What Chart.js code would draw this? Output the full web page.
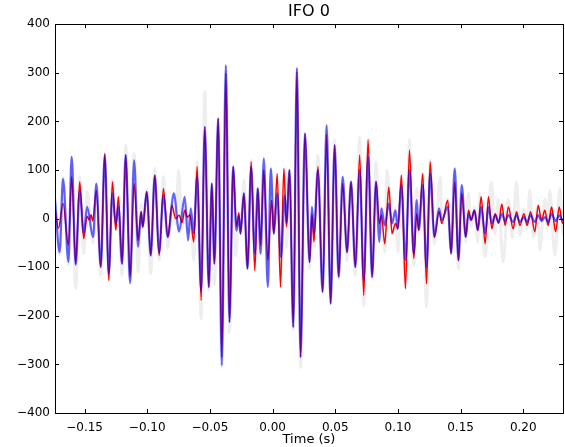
<!DOCTYPE html>
<html>
<head>
<meta charset="utf-8">
<script src="https://cdn.jsdelivr.net/npm/chart.js"></script>
<style>
  html, body { margin: 0; padding: 0; background: #fff; }
  #wrap { width: 565px; height: 447px; }
</style>
</head>
<body>
<div id="wrap"><canvas id="chartIfo"></canvas></div>
<script>
// values: extrema of each trace (time in s, strain units)
const redT = [-0.1736,-0.1709,-0.1672,-0.1629,-0.1603,-0.1571,-0.1539,-0.1507,-0.1480,-0.1464,-0.1448,-0.1436,-0.1406,-0.1371,-0.1339,-0.1307,-0.1278,-0.1251,-0.1230,-0.1201,-0.1172,-0.1137,-0.1105,-0.1073,-0.1049,-0.1036,-0.1004,-0.0972,-0.0940,-0.0905,-0.0871,-0.0836,-0.0804,-0.0772,-0.0746,-0.0722,-0.0701,-0.0680,-0.0660,-0.0629,-0.0602,-0.0570,-0.0541,-0.0509,-0.0485,-0.0464,-0.0434,-0.0405,-0.0373,-0.0344,-0.0315,-0.0288,-0.0269,-0.0256,-0.0229,-0.0200,-0.0171,-0.0142,-0.0118,-0.0096,-0.0070,-0.0038,-0.0008,0.0010,0.0037,0.0063,0.0090,0.0111,0.0135,0.0165,0.0194,0.0223,0.0258,0.0295,0.0314,0.0330,0.0362,0.0399,0.0431,0.0463,0.0495,0.0527,0.0559,0.0594,0.0626,0.0660,0.0695,0.0727,0.0762,0.0794,0.0825,0.0852,0.0868,0.0895,0.0927,0.0953,0.0980,0.0999,0.1028,0.1060,0.1092,0.1126,0.1150,0.1166,0.1198,0.1228,0.1257,0.1291,0.1328,0.1350,0.1398,0.1424,0.1453,0.1483,0.1509,0.1541,0.1563,0.1584,0.1611,0.1637,0.1664,0.1696,0.1722,0.1749,0.1776,0.1803,0.1829,0.1855,0.1882,0.1919,0.1946,0.1973,0.2005,0.2031,0.2058,0.2092,0.2119,0.2146,0.2172,0.2199,0.2226,0.2258,0.2287,0.2313,0.2329];
const redV = [20,-20,31,-55,86,-93,76,-41,5,-3,8,-5,58,-100,134,-127,76,-24,45,-93,131,-120,72,-45,14,-17,55,-76,89,-76,62,-38,27,0,7,-8,17,3,8,-48,107,-168,189,-141,72,-93,206,-285,299,-213,107,-17,12,-31,52,-103,117,-107,62,-55,100,-86,38,-31,93,-141,103,-17,100,-223,302,-285,175,-90,10,-48,107,-151,172,-175,151,-120,72,-69,76,-100,131,-158,162,-120,76,-10,7,-52,65,-31,-10,-21,89,-144,141,-82,10,-24,93,-134,117,-38,14,-10,38,-72,76,-86,52,-38,17,-3,17,-24,45,-52,45,-21,10,-10,30,-14,24,-21,14,-14,10,-14,14,-27,27,-3,17,-14,24,-27,24,-10,0];

const blueT = [-0.1736,-0.1699,-0.1672,-0.1629,-0.1603,-0.1571,-0.1539,-0.1507,-0.1480,-0.1432,-0.1406,-0.1371,-0.1339,-0.1307,-0.1278,-0.1251,-0.1230,-0.1201,-0.1172,-0.1137,-0.1105,-0.1073,-0.1049,-0.1036,-0.1004,-0.0972,-0.0940,-0.0905,-0.0871,-0.0836,-0.0788,-0.0746,-0.0701,-0.0674,-0.0653,-0.0629,-0.0602,-0.0570,-0.0541,-0.0509,-0.0485,-0.0464,-0.0434,-0.0405,-0.0373,-0.0344,-0.0315,-0.0288,-0.0269,-0.0256,-0.0229,-0.0200,-0.0171,-0.0142,-0.0118,-0.0096,-0.0070,-0.0038,-0.0014,0.0010,0.0037,0.0066,0.0098,0.0111,0.0135,0.0165,0.0194,0.0223,0.0258,0.0295,0.0314,0.0330,0.0362,0.0399,0.0431,0.0463,0.0495,0.0527,0.0559,0.0594,0.0626,0.0660,0.0695,0.0727,0.0762,0.0794,0.0825,0.0852,0.0868,0.0895,0.0927,0.0953,0.0980,0.0999,0.1028,0.1060,0.1092,0.1126,0.1150,0.1166,0.1198,0.1228,0.1257,0.1291,0.1328,0.1350,0.1398,0.1424,0.1453,0.1483,0.1509,0.1541,0.1563,0.1584,0.1611,0.1637,0.1664,0.1696,0.1722,0.1749,0.1776,0.1803,0.1829,0.1855,0.1882,0.1919,0.1946,0.1973,0.2005,0.2031,0.2058,0.2092,0.2119,0.2146,0.2172,0.2199,0.2226,0.2258,0.2287,0.2313,0.2329];
const blueV = [40,-69,82,-89,127,-95,58,-30,24,-38,72,-100,130,-113,52,-10,25,-93,131,-133,120,-58,14,-17,55,-76,89,-70,48,-38,52,-27,45,-45,21,-30,86,-148,189,-141,72,-93,206,-302,316,-213,107,-25,5,-31,52,-103,107,-72,62,-72,124,-141,103,-31,52,-79,48,-10,100,-223,310,-285,175,-90,24,-30,100,-151,192,-175,151,-120,86,-69,76,-100,100,-127,127,-120,76,-48,21,-14,31,-10,17,-21,69,-86,100,-72,38,-24,69,-100,93,-38,21,-3,24,-72,103,-86,69,-38,10,-3,17,-24,24,-31,24,-10,7,-7,10,-5,7,-7,7,-7,3,-7,7,-7,7,-5,3,-7,10,-5,7,-3,0];

const grayT = [-0.1736,-0.1699,-0.1672,-0.1629,-0.1603,-0.1571,-0.1539,-0.1507,-0.1480,-0.1432,-0.1406,-0.1371,-0.1339,-0.1307,-0.1278,-0.1251,-0.1230,-0.1201,-0.1172,-0.1137,-0.1105,-0.1073,-0.1049,-0.1036,-0.1004,-0.0972,-0.0940,-0.0905,-0.0871,-0.0836,-0.0804,-0.0772,-0.0750,-0.0722,-0.0701,-0.0674,-0.0653,-0.0629,-0.0602,-0.0570,-0.0541,-0.0509,-0.0485,-0.0464,-0.0434,-0.0405,-0.0373,-0.0344,-0.0315,-0.0293,-0.0269,-0.0256,-0.0229,-0.0200,-0.0171,-0.0142,-0.0118,-0.0096,-0.0070,-0.0038,-0.0014,0.0010,0.0037,0.0066,0.0098,0.0111,0.0135,0.0165,0.0194,0.0223,0.0258,0.0295,0.0314,0.0330,0.0362,0.0399,0.0431,0.0463,0.0495,0.0527,0.0559,0.0594,0.0626,0.0660,0.0695,0.0727,0.0762,0.0794,0.0825,0.0852,0.0868,0.0895,0.0913,0.0953,0.0980,0.0999,0.1028,0.1060,0.1092,0.1126,0.1150,0.1166,0.1198,0.1228,0.1257,0.1291,0.1339,0.1350,0.1398,0.1424,0.1453,0.1483,0.1509,0.1541,0.1563,0.1584,0.1611,0.1637,0.1653,0.1696,0.1746,0.1773,0.1800,0.1840,0.1880,0.1913,0.1946,0.1973,0.2005,0.2030,0.2052,0.2079,0.2119,0.2132,0.2172,0.2192,0.2212,0.2252,0.2292,0.2319,0.2329];
const grayV = [30,-75,85,-95,125,-144,86,-72,55,-50,70,-117,134,-127,80,-20,45,-117,151,-127,134,-110,30,-20,60,-113,103,-85,86,-60,30,-10,100,-20,30,-30,10,-86,117,-206,261,-148,72,-137,206,-306,312,-234,107,-76,10,-30,79,-103,120,-90,65,-70,100,-130,103,-30,60,-115,100,-60,100,-230,305,-306,175,-103,24,-60,131,-151,192,-175,162,-123,86,-86,76,-117,168,-179,162,-123,117,-30,21,-69,100,-30,21,-69,89,-144,162,-96,62,-30,93,-182,120,-52,86,0,40,-72,103,-103,69,-48,52,-17,24,-48,52,-79,76,-31,40,-89,40,-40,76,-35,20,-20,58,-38,28,-65,40,-20,58,-76,62,-35,0];

const xTicks = [-0.15, -0.10, -0.05, 0.00, 0.05, 0.10, 0.15, 0.20];
const yTicks = [-400, -300, -200, -100, 0, 100, 200, 300, 400];

function toPoints(ts, vs) {
  return ts.map((t, i) => ({ x: t, y: vs[i] }));
}

function minusLabel(v, digits) {
  const s = Math.abs(v).toFixed(digits);
  return v < 0 ? '\u2212' + s : s;
}

// matplotlib style frame with inward ticks on all four sides
const frameTicks = {
  id: 'frameTicks',
  afterDatasetsDraw(chart) {
    const { ctx, chartArea: a, scales } = chart;
    ctx.save();
    ctx.strokeStyle = '#000';
    ctx.lineWidth = 1;
    ctx.beginPath();
    xTicks.forEach(v => {
      const px = Math.round(scales.x.getPixelForValue(v)) + 0.5;
      ctx.moveTo(px, a.bottom); ctx.lineTo(px, a.bottom - 4);
      ctx.moveTo(px, a.top); ctx.lineTo(px, a.top + 4);
    });
    yTicks.forEach(v => {
      const py = Math.round(scales.y.getPixelForValue(v)) + 0.5;
      ctx.moveTo(a.left, py); ctx.lineTo(a.left + 4, py);
      ctx.moveTo(a.right, py); ctx.lineTo(a.right - 4, py);
    });
    ctx.stroke();
    ctx.strokeRect(Math.round(a.left) + 0.5, Math.round(a.top) + 0.5,
      Math.round(a.right - a.left), Math.round(a.bottom - a.top));
    ctx.restore();
  }
};

Chart.defaults.font.family = "'DejaVu Sans', sans-serif";
Chart.defaults.font.size = 12;
Chart.defaults.color = '#000';

new Chart(document.getElementById('chartIfo'), {
  type: 'line',
  data: {
    datasets: [
      {
        label: 'blue',
        data: toPoints(blueT, blueV),
        borderColor: 'rgba(0,0,255,0.6)',
        borderWidth: 2.2,
        order: 0
      },
      {
        label: 'red',
        data: toPoints(redT, redV),
        borderColor: '#ff0000',
        borderWidth: 1.5,
        order: 1
      },
      {
        label: 'gray',
        data: toPoints(grayT, grayV),
        borderColor: '#eeeeee',
        borderWidth: 3,
        order: 2
      }
    ]
  },
  options: {
    responsive: true,
    maintainAspectRatio: false,
    animation: false,
    layout: { padding: { left: 0, right: 2, top: 0, bottom: 0 } },
    elements: {
      point: { radius: 0 },
      line: { cubicInterpolationMode: 'monotone', fill: false }
    },
    plugins: {
      legend: { display: false },
      tooltip: { enabled: false },
      title: {
        display: true,
        text: 'IFO 0',
        fullSize: false,
        font: { size: 16, weight: 'normal' },
        padding: { top: 2, bottom: 3 }
      }
    },
    scales: {
      x: {
        type: 'linear',
        min: -0.1736,
        max: 0.2317,
        grid: { display: false, drawTicks: false },
        border: { display: false },
        afterBuildTicks: s => { s.ticks = xTicks.map(v => ({ value: v })); },
        afterFit: s => { s.height = 34; },
        ticks: {
          padding: 8,
          maxRotation: 0,
          autoSkip: false,
          callback: v => minusLabel(v, 2)
        },
        title: { display: true, text: 'Time (s)', font: { size: 13 }, padding: { top: 0, bottom: 0 } }
      },
      y: {
        min: -400,
        max: 400,
        grid: { display: false, drawTicks: false },
        border: { display: false },
        afterBuildTicks: s => { s.ticks = yTicks.map(v => ({ value: v })); },
        afterFit: s => { s.width = 55; },
        ticks: {
          padding: 5,
          autoSkip: false,
          callback: v => minusLabel(v, 0)
        }
      }
    }
  },
  plugins: [frameTicks]
});
</script>
</body>
</html>
